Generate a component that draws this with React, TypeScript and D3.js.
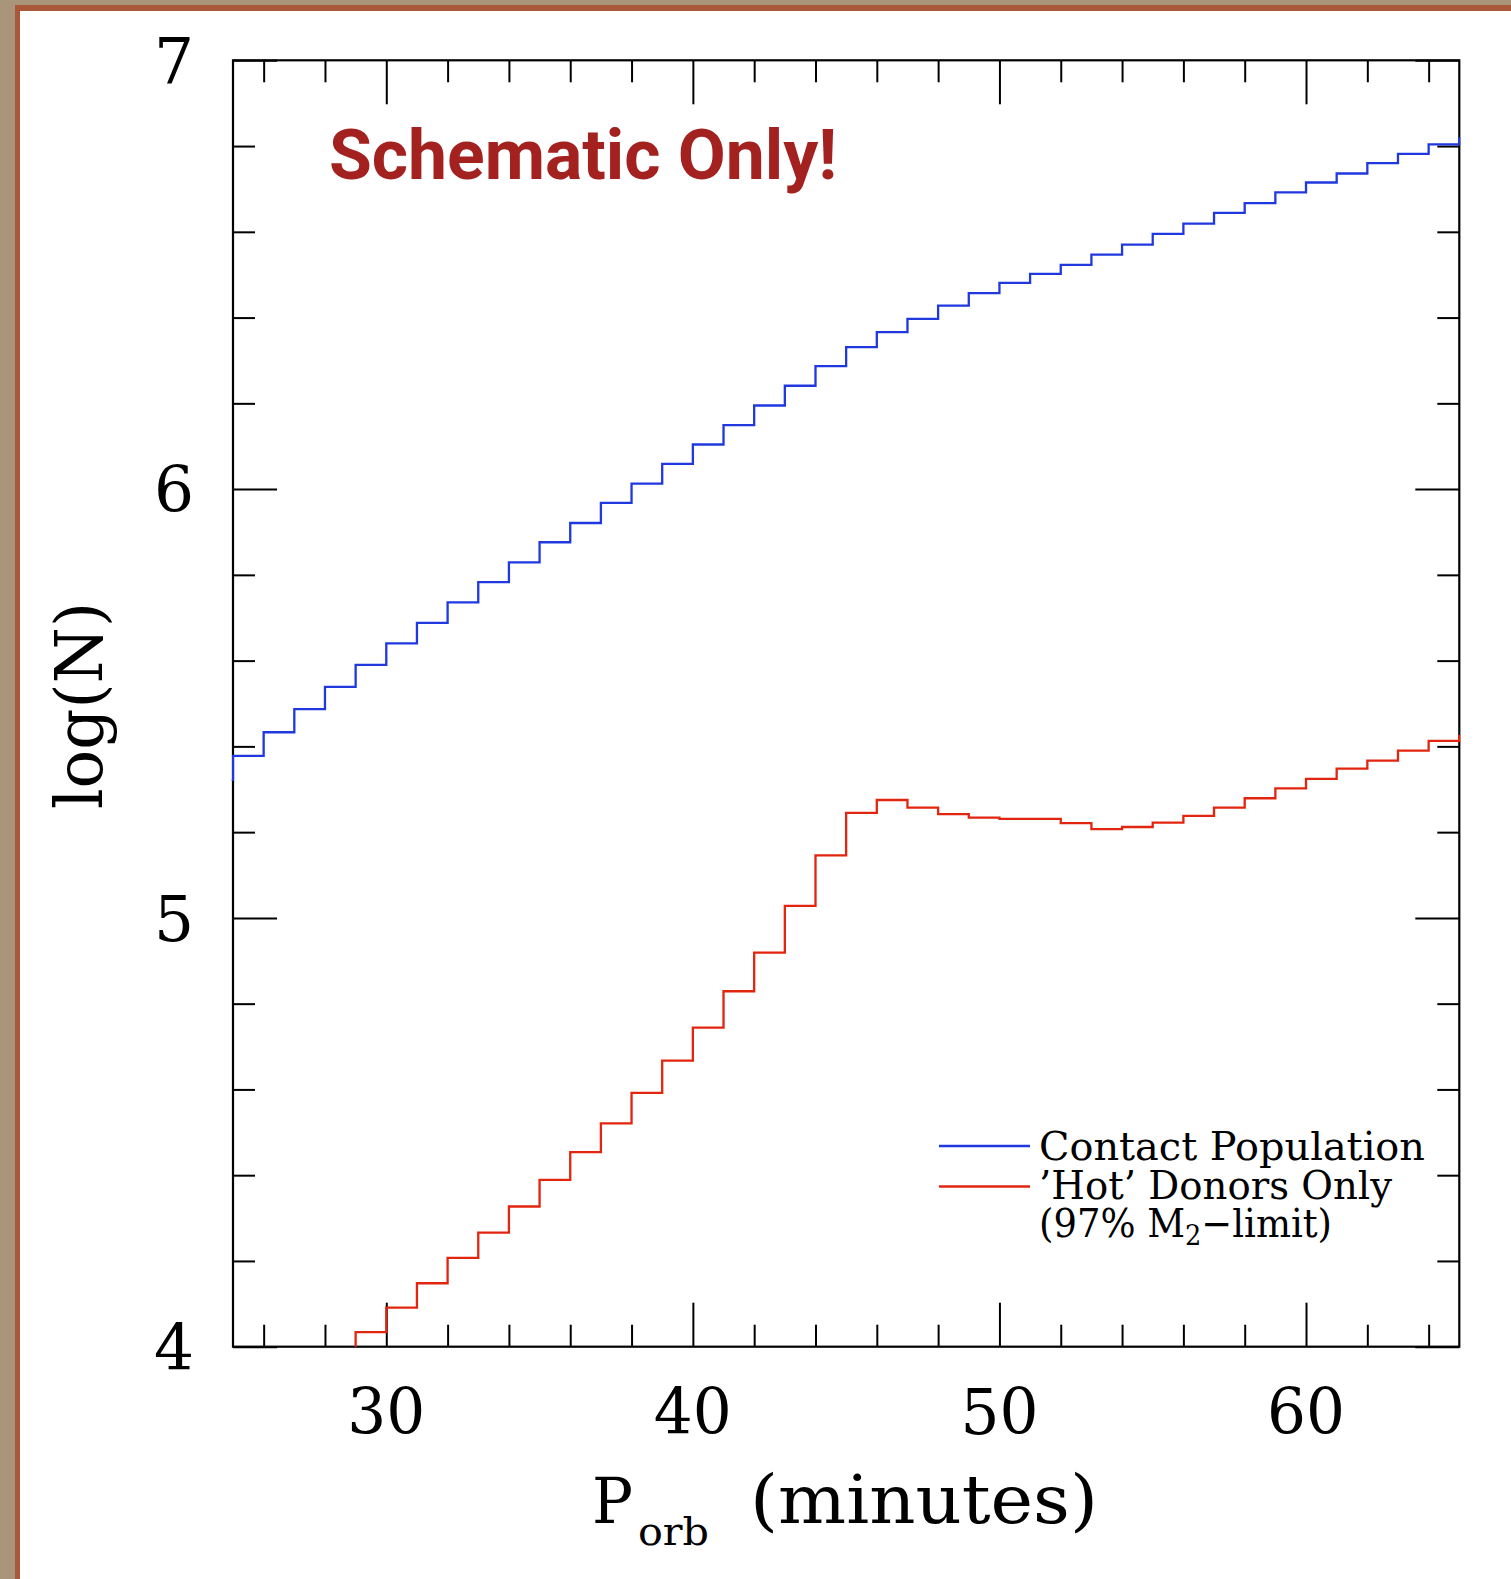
import * as d3 from "d3";
import { useEffect, useRef } from "react";

const WIDTH = 1511;
const HEIGHT = 1579;

// left edge of each 1-minute bin (P_orb, minutes)
const binEdges = [24, 25, 26, 27, 28, 29, 30, 31, 32, 33, 34, 35, 36, 37, 38, 39, 40, 41, 42, 43, 44, 45, 46, 47, 48, 49, 50, 51, 52, 53, 54, 55, 56, 57, 58, 59, 60, 61, 62, 63, 64, 65];

// log(N) per bin - contact population (blue)
const contactLogN = [5.322, 5.378, 5.433, 5.487, 5.539, 5.590, 5.640, 5.688, 5.736, 5.783, 5.829, 5.876, 5.921, 5.968, 6.013, 6.059, 6.104, 6.149, 6.195, 6.241, 6.287, 6.331, 6.366, 6.397, 6.428, 6.457, 6.481, 6.502, 6.523, 6.547, 6.570, 6.595, 6.619, 6.644, 6.667, 6.692, 6.715, 6.736, 6.760, 6.782, 6.804, 6.820];

// log(N) per bin - 'hot' donors only (red), empty below 28 min
const hotLogN = [null, null, null, null, 3.90, 4.034, 4.091, 4.148, 4.207, 4.266, 4.327, 4.389, 4.454, 4.521, 4.592, 4.667, 4.744, 4.829, 4.919, 5.028, 5.146, 5.245, 5.275, 5.257, 5.242, 5.234, 5.231, 5.231, 5.221, 5.207, 5.212, 5.222, 5.238, 5.257, 5.279, 5.302, 5.324, 5.348, 5.367, 5.390, 5.413, 5.427];

const xMajorTicks = [30, 40, 50, 60];
const xMinorTicks = [26, 28, 32, 34, 36, 38, 42, 44, 46, 48, 52, 54, 56, 58, 62, 64];
const yMajorTicks = [4, 5, 6, 7];
const yMinorTicks = [4.2, 4.4, 4.6, 4.8, 5.2, 5.4, 5.6, 5.8, 6.2, 6.4, 6.6, 6.8];

const seriesNames = ["Contact Population", "\u2019Hot\u2019 Donors Only"];
const seriesColors = ["#1f38e0", "#e2250f"];

const SERIF = "'DejaVu Serif', 'Liberation Serif', serif";

const App = () => {
    const chartRef = useRef(null);

    const margin = { top: 60.3, left: 233, right: WIDTH - 1459.3, bottom: HEIGHT - 1346.7 };
    const x0 = margin.left;
    const x1 = WIDTH - margin.right;
    const y0 = margin.top;
    const y1 = HEIGHT - margin.bottom;

    useEffect(() => {
        if (!chartRef.current) return;
        const svg = d3.select(chartRef.current);
        svg.selectAll("*").remove();

        const scaleX = d3.scaleLinear().domain([25, 65]).range([x0, x1]);
        const scaleY = d3.scaleLinear().domain([4, 7]).range([y1, y0]);

        // page background + frame
        svg.append("rect").attr("width", WIDTH).attr("height", HEIGHT).attr("fill", "#a8957a");
        svg.append("rect").attr("x", 15).attr("y", 5).attr("width", WIDTH).attr("height", HEIGHT).attr("fill", "#a9583a");
        svg.append("rect").attr("x", 20).attr("y", 11).attr("width", WIDTH).attr("height", HEIGHT).attr("fill", "#ffffff");

        // ticks on all four sides, pointing inwards
        const addTicks = (axis, transform) => {
            const g = svg.append("g").attr("transform", transform).call(axis);
            g.select(".domain").remove();
            g.selectAll("text").remove();
            g.selectAll("line").attr("stroke", "#000").attr("stroke-width", 2);
        };
        const sides = [
            [d3.axisBottom, scaleX, `translate(0,${y1})`],
            [d3.axisTop, scaleX, `translate(0,${y0})`],
            [d3.axisLeft, scaleY, `translate(${x0},0)`],
            [d3.axisRight, scaleY, `translate(${x1},0)`]
        ];
        sides.forEach(([make, scale, transform], i) => {
            const isX = i < 2;
            addTicks(make(scale).tickValues(isX ? xMinorTicks : yMinorTicks).tickSize(-22), transform);
            addTicks(make(scale).tickValues(isX ? xMajorTicks : yMajorTicks).tickSize(-44), transform);
        });

        svg.append("rect")
            .attr("x", x0).attr("y", y0)
            .attr("width", x1 - x0).attr("height", y1 - y0)
            .attr("fill", "none").attr("stroke", "#000").attr("stroke-width", 2.2);

        // tick labels
        svg.append("g").selectAll("text")
            .data(xMajorTicks)
            .enter()
            .append("text")
            .attr("x", d => scaleX(d))
            .attr("y", y1 + 87)
            .attr("text-anchor", "middle")
            .attr("textLength", 78)
            .attr("lengthAdjust", "spacingAndGlyphs")
            .style("font-family", SERIF)
            .style("font-size", "63px")
            .text(d => d);

        svg.append("g").selectAll("text")
            .data(yMajorTicks)
            .enter()
            .append("text")
            .attr("x", 174)
            .attr("y", d => scaleY(d) + 23)
            .attr("text-anchor", "middle")
            .style("font-family", SERIF)
            .style("font-size", "63px")
            .text(d => d);

        // axis titles
        svg.append("text")
            .attr("transform", `translate(102, 705.5) rotate(-90)`)
            .attr("text-anchor", "middle")
            .attr("textLength", 207)
            .attr("lengthAdjust", "spacingAndGlyphs")
            .style("font-family", SERIF)
            .style("font-size", "65px")
            .text("log(N)");

        svg.append("text")
            .attr("x", 592).attr("y", 1523)
            .attr("textLength", 41)
            .attr("lengthAdjust", "spacingAndGlyphs")
            .style("font-family", SERIF)
            .style("font-size", "64px")
            .text("P");
        svg.append("text")
            .attr("x", 638).attr("y", 1545)
            .attr("textLength", 71)
            .attr("lengthAdjust", "spacingAndGlyphs")
            .style("font-family", SERIF)
            .style("font-size", "40px")
            .text("orb");
        svg.append("text")
            .attr("x", 750).attr("y", 1523)
            .attr("textLength", 348)
            .attr("lengthAdjust", "spacingAndGlyphs")
            .style("font-family", SERIF)
            .style("font-size", "67px")
            .text("(minutes)");

        // step histograms
        svg.append("clipPath")
            .attr("id", "plot-clip")
            .append("rect")
            .attr("x", x0 - 1.2).attr("y", y0)
            .attr("width", x1 - x0 + 2.4).attr("height", y1 - y0);

        const plot = svg.append("g").attr("clip-path", "url(#plot-clip)");
        [contactLogN, hotLogN].forEach((values, s) => {
            const line = d3.line()
                .defined((d, i) => values[i] != null)
                .x((d, i) => scaleX(binEdges[i]))
                .y((d, i) => scaleY(values[i]))
                .curve(d3.curveStepAfter);
            plot.append("path")
                .attr("d", line(binEdges))
                .attr("fill", "none")
                .attr("stroke", seriesColors[s])
                .attr("stroke-width", 2.3);
        });

        // legend
        const legend = svg.append("g");
        seriesNames.forEach((name, i) => {
            const ly = 1146 + i * 40.5;
            legend.append("line")
                .attr("x1", 939).attr("x2", 1030)
                .attr("y1", ly).attr("y2", ly)
                .attr("stroke", seriesColors[i])
                .attr("stroke-width", 2.3);
            legend.append("text")
                .attr("x", 1039).attr("y", 1160 + i * 39)
                .attr("textLength", i === 0 ? 386 : 353)
                .attr("lengthAdjust", "spacingAndGlyphs")
                .style("font-family", SERIF)
                .style("font-size", "39px")
                .text(name);
        });
        const note = legend.append("text")
            .attr("x", 1039).attr("y", 1237)
            .attr("textLength", 293)
            .attr("lengthAdjust", "spacingAndGlyphs")
            .style("font-family", SERIF)
            .style("font-size", "39px");
        note.append("tspan").text("(97% M");
        note.append("tspan").attr("dy", 8).style("font-size", "27px").text("2");
        note.append("tspan").attr("dy", -8).text("\u2212limit)");

        // banner
        svg.append("text")
            .attr("x", 329).attr("y", 179)
            .attr("textLength", 508)
            .attr("lengthAdjust", "spacingAndGlyphs")
            .style("font-family", "Roboto, 'Open Sans', sans-serif")
            .style("font-weight", 700)
            .style("font-size", "71px")
            .attr("fill", "#a3221f")
            .text("Schematic Only!");
    }, []);

    return (
        <svg
            ref={chartRef}
            width={WIDTH}
            height={HEIGHT}
            style={{ position: "absolute", left: 0, top: 0, display: "block" }}
        />
    );
};

export default App;
